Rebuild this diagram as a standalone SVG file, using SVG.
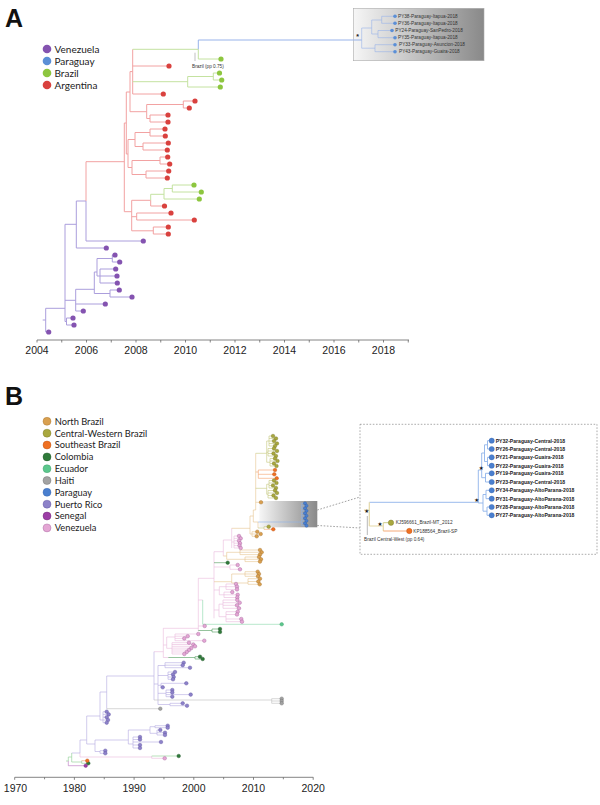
<svg xmlns="http://www.w3.org/2000/svg" width="600" height="805" viewBox="0 0 600 805">
<defs>
<linearGradient id="gbox" x1="0" y1="0" x2="1" y2="0"><stop offset="0" stop-color="#f6f6f6"/><stop offset="1" stop-color="#898989"/></linearGradient>
</defs>
<style>
.b{fill:none;stroke-width:1}
.s{fill:none;stroke-width:0.6}
.pa{stroke:#ab9edc}.ra{stroke:#f2a2a2}.ga{stroke:#c4e2a0}.ba{stroke:#98b3ea}
.pk{stroke:#eab8dc}.pu{stroke:#b3aae0}.gy{stroke:#bdbdbd}.gn{stroke:#8ccc8e}.dg{stroke:#4f9a5a}.mg{stroke:#b871c0}.or{stroke:#f4a06a}.mt{stroke:#86d6a8}.tn{stroke:#e5c48e}.ol{stroke:#c4c77c}.bu{stroke:#8fb3ea}
.tp{fill:#8453b0}.tr{fill:#d9413e}.tg{fill:#8dc63f}.tb{fill:#5b8fd6}
.cpk{fill:#e4a6d4;stroke:#a0609a;stroke-width:0.4}
.cpu{fill:#8d82c9;stroke:#5b4e9e;stroke-width:0.4}
.cgy{fill:#a3a3a3;stroke:#6a6a6a;stroke-width:0.4}
.cdg{fill:#2f7a3a;stroke:#1d5024;stroke-width:0.4}
.cmt{fill:#5cc78d;stroke:#3a9a66;stroke-width:0.4}
.cmg{fill:#9c3ea6;stroke:#6a2070;stroke-width:0.4}
.cor{fill:#ef7022;stroke:#b84e10;stroke-width:0.4}
.ctn{fill:#d9a050;stroke:#a47028;stroke-width:0.4}
.col{fill:#a9a83e;stroke:#757320;stroke-width:0.4}
.cbu{fill:#4a7fcf;stroke:#2f5fa8;stroke-width:0.4}
.lab{font-family:"Liberation Sans",Arial,sans-serif;font-weight:bold;font-size:25px;fill:#111}
.leg{font-family:Lato,"Open Sans",sans-serif;font-size:10px;fill:#222}
.legb{font-family:Lato,"Open Sans",sans-serif;font-size:9.3px;fill:#222}
.ax{font-family:"Liberation Sans",Arial,sans-serif;font-size:10.5px;fill:#222;text-anchor:middle}
.tiny{font-family:"Liberation Sans",Arial,sans-serif;font-size:4.7px;fill:#333}
.tinyb{font-family:"Liberation Sans",Arial,sans-serif;font-size:5.1px;font-weight:bold;fill:#222}
.st{font-family:"DejaVu Sans",sans-serif;font-size:5.5px;fill:#111;text-anchor:middle}
.axl{stroke:#666;stroke-width:0.8;fill:none}
</style>

<g id="panelA">
<text class="lab" x="5" y="27">A</text>
<g id="legendA">
<circle cx="47" cy="49" r="4.3" class="tp"/><text class="leg" x="54.5" y="52.5">Venezuela</text>
<circle cx="47" cy="61" r="4.3" class="tb"/><text class="leg" x="54.5" y="64.5">Paraguay</text>
<circle cx="47" cy="73" r="4.3" class="tg"/><text class="leg" x="54.5" y="76.5">Brazil</text>
<circle cx="47" cy="85" r="4.3" class="tr"/><text class="leg" x="54.5" y="88.5">Argentina</text>
</g>
<g id="insetA">
<rect x="353.3" y="8.3" width="130.7" height="52.4" fill="url(#gbox)" stroke="#aaaaaa" stroke-width="0.6"/>
</g>
<g id="branchesA">
<path class="b pa" d="M42.7 320H45.7 M45.7 308.3V332H48.7 M45.7 308.3H65 M65 224.3V321.5 M65 321.5H66.5 M66.5 318V325 M66.5 318H73 M66.5 325H74 M65 224.3H76.3 M76.3 201V248H106.3 M76.3 201H86 M86 201V241H143.3 M65 300.3H75.7 M75.7 289.3V311 M75.7 304H105.3 M75.7 311H83.3 M75.7 289.3H94.3 M94.3 272V293.5 M94.3 293.5H110 M110 290V297 M110 290H119.3 M110 297H132 M94.3 272H97 M97 258.5V276 M97 258.5H112.3 M112.3 255V262 M112.3 255H115 M112.3 262H119.7 M97 276H100 M100 269V283 M100 269H115.7 M100 276H117 M100 283H117.3"/>
<path class="b ra" d="M86 161.7V201 M86 161.7H124.3 M124.3 123V211.7 M124.3 123H126.3 M126.3 92V154 M126.3 92H130 M130 71.6V111.7 M130 71.6H132.7 M132.7 49.3V94 M132.7 66H169 M132.7 94H163.3 M130 111.7H146.7 M146.7 104.5V118.5 M146.7 104.5H183.3 M183.3 101V108 M183.3 101H195 M183.3 108H189.3 M146.7 118.5H150 M150 115V122 M150 115H168 M150 122H168 M126.3 154H128 M128 139.5V167.5 M128 139.5H135 M135 132.5V146.5 M135 132.5H150 M150 129V136 M150 129H165 M150 136H165.3 M135 146.5H143 M143 143V150 M143 143H168.3 M143 150H167.3 M128 167.5H132 M132 160.5V174.5 M132 160.5H160 M160 157V164 M160 157H167.7 M160 164H169.7 M132 174.5H146 M146 171V178 M146 171H168.7 M146 178H167.3 M124.3 211.7H131.7 M131.7 200.3V230.8 M131.7 200.3H150.7 M150.7 200.3V206H164.5 M131.7 216.7H136.7 M136.7 213V220 M136.7 213H171 M136.7 220H194.3 M131.7 230.8H153.3 M153.3 227V234 M153.3 227H168.3 M153.3 234H168.3"/>
<path class="b ga" d="M132.7 49.3H198.3 M198.3 49.3V59H221 M132.7 81.7H187.7 M187.7 76.5V87 M187.7 76.5H213.3 M213.3 73V80 M213.3 73H219.5 M213.3 80H221.7 M187.7 87H220.3 M150.7 194.3V200.3 M150.7 194.3H164 M164 188.5V199 M164 188.5H172.3 M172.3 185V192 M172.3 185H194 M172.3 192H201.3 M164 199H199.3"/>
<path class="b ba" d="M198.3 40V49.3 M198.3 40H361.7"/>
<path class="s ba" stroke-width="0.7" d="M361.7 28V48.2 M361.7 28H371.7 M371.7 20V34 M371.7 20H381.7 M381.7 16.3V23.3 M381.7 16.3H395 M381.7 23.3H395 M371.7 34H378 M378 30.5V37.7 M378 30.5H392 M378 37.7H395 M361.7 48.2H375 M375 44.7V51.7 M375 44.7H395 M375 51.7H395"/>
<path fill="none" stroke="#999" stroke-width="0.6" d="M195 52.7V61"/>
</g>
<g id="tipsA">
<g class="tg"><circle cx="221" cy="59" r="2.6"/><circle cx="219.5" cy="73" r="2.6"/><circle cx="221.7" cy="80" r="2.6"/><circle cx="220.3" cy="87" r="2.6"/><circle cx="194" cy="185" r="2.6"/><circle cx="201.3" cy="192" r="2.6"/><circle cx="199.3" cy="199" r="2.6"/></g>
<g class="tr"><circle cx="169" cy="66" r="2.6"/><circle cx="163.3" cy="94" r="2.6"/><circle cx="195" cy="101" r="2.6"/><circle cx="189.3" cy="108" r="2.6"/><circle cx="168" cy="115" r="2.6"/><circle cx="168" cy="122" r="2.6"/><circle cx="165" cy="129" r="2.6"/><circle cx="165.3" cy="136" r="2.6"/><circle cx="168.3" cy="143" r="2.6"/><circle cx="167.3" cy="150" r="2.6"/><circle cx="167.7" cy="157" r="2.6"/><circle cx="169.7" cy="164" r="2.6"/><circle cx="168.7" cy="171" r="2.6"/><circle cx="167.3" cy="178" r="2.6"/><circle cx="164.5" cy="206" r="2.6"/><circle cx="171" cy="213" r="2.6"/><circle cx="194.3" cy="220" r="2.6"/><circle cx="168.3" cy="227" r="2.6"/><circle cx="168.3" cy="234" r="2.6"/></g>
<g class="tp"><circle cx="143.3" cy="241" r="2.6"/><circle cx="106.3" cy="248" r="2.6"/><circle cx="115" cy="255" r="2.6"/><circle cx="119.7" cy="262" r="2.6"/><circle cx="115.7" cy="269" r="2.6"/><circle cx="117" cy="276" r="2.6"/><circle cx="117.3" cy="283" r="2.6"/><circle cx="119.3" cy="290" r="2.6"/><circle cx="132" cy="297" r="2.6"/><circle cx="105.3" cy="304" r="2.6"/><circle cx="83.3" cy="311" r="2.6"/><circle cx="73" cy="318" r="2.6"/><circle cx="74" cy="325" r="2.6"/><circle cx="48.7" cy="332" r="2.6"/></g>
<g class="tb"><circle cx="395" cy="16.3" r="1.8"/><circle cx="395" cy="23.3" r="1.8"/><circle cx="392" cy="30.5" r="1.8"/><circle cx="395" cy="37.7" r="1.8"/><circle cx="395" cy="44.7" r="1.8"/><circle cx="395" cy="51.7" r="1.8"/></g>
</g>
<g id="labelsA">
<text class="tiny" x="398" y="17.9">PY38-Paraguay-Itapua-2018</text>
<text class="tiny" x="398" y="24.9">PY36-Paraguay-Itapua-2018</text>
<text class="tiny" x="395.3" y="32.1">PY24-Paraguay-SanPedro-2018</text>
<text class="tiny" x="398" y="39.3">PY35-Paraguay-Itapua-2018</text>
<text class="tiny" x="399" y="46.3">PY33-Paraguay-Asuncion-2018</text>
<text class="tiny" x="399" y="53.3">PY43-Paraguay-Guaira-2018</text>
<text class="tiny" x="192" y="67.5">Brazil (pp 0.75)</text>
<text x="357.7" y="39" font-family="Liberation Sans, sans-serif" font-size="7" font-weight="bold" fill="#222" text-anchor="middle">*</text>
</g>
<g id="axisA">
<path class="axl" d="M37 340H409 M37 340v2.5 M61.75 340v2.5 M86.5 340v2.5 M111.25 340v2.5 M136 340v2.5 M160.75 340v2.5 M185.5 340v2.5 M210.25 340v2.5 M235 340v2.5 M259.75 340v2.5 M284.5 340v2.5 M309.25 340v2.5 M334 340v2.5 M358.75 340v2.5 M383.5 340v2.5 M408.25 340v2.5"/>
<text class="ax" x="37" y="354">2004</text><text class="ax" x="86.5" y="354">2006</text><text class="ax" x="136" y="354">2008</text><text class="ax" x="185.5" y="354">2010</text><text class="ax" x="235" y="354">2012</text><text class="ax" x="284.5" y="354">2014</text><text class="ax" x="334" y="354">2016</text><text class="ax" x="383.5" y="354">2018</text>
</g>
</g>

<g id="panelB">
<text class="lab" x="5" y="405">B</text>
<g id="legendB">
<circle cx="47" cy="421.3" r="4" class="ctn"/><text class="legb" x="54.7" y="424.6">North Brazil</text>
<circle cx="47" cy="433.2" r="4" class="col"/><text class="legb" x="54.7" y="436.5">Central-Western Brazil</text>
<circle cx="47" cy="445" r="4" class="cor"/><text class="legb" x="54.7" y="448.3">Southeast Brazil</text>
<circle cx="47" cy="456.9" r="4" class="cdg"/><text class="legb" x="54.7" y="460.2">Colombia</text>
<circle cx="47" cy="468.7" r="4" class="cmt"/><text class="legb" x="54.7" y="472">Ecuador</text>
<circle cx="47" cy="480.5" r="4" class="cgy"/><text class="legb" x="54.7" y="483.8">Haiti</text>
<circle cx="47" cy="492.3" r="4" class="cbu"/><text class="legb" x="54.7" y="495.6">Paraguay</text>
<circle cx="47" cy="504.2" r="4" class="cpu"/><text class="legb" x="54.7" y="507.5">Puerto Rico</text>
<circle cx="47" cy="516" r="4" class="cmg"/><text class="legb" x="54.7" y="519.3">Senegal</text>
<circle cx="47" cy="527.9" r="4" class="cpk"/><text class="legb" x="54.7" y="531.2">Venezuela</text>
</g>
<g id="highlightB">
<rect x="259.3" y="501" width="58" height="26.3" fill="url(#gbox)"/>
</g>
<g id="connectors">
<path fill="none" stroke="#777" stroke-width="0.7" stroke-dasharray="1.6 1.6" d="M317.3 510L360 497 M317.3 525.5L360 528"/>
</g>
<g id="branchesB">
<path class="s pk" d="M80 753V757H151.7 M151.7 756V758.3 M151.7 758.3H164.7 M163.3 628.3V657.5 M154 651.7H163.3 M163.3 657.5H168.3 M163.3 645H166.7 M166.7 637V648.3 M166.7 637H175 M175 634V640.7 M175 634H198.3 M175 636.2H187.7 M175 638.4H184.3 M175 640.7H204.3 M166.7 648.3H172 M172 642.7V654 M172 642.7H189 M172 644.5H193.3 M172 646.3H195 M172 648.1H191.3 M172 650H189 M172 652H186.7 M172 654H184.3 M163.3 628.3H198.3 M198.3 578.3V631 M198.3 626H204.7 M198.3 600H202.7 M198.3 578.3H214 M214 551.7V618.3 M214 590H219.3 M219.3 586.7V594.8 M219.3 586.7H226 M226 584V589.4 M226 584H236 M226 586.7H237 M226 589.4H237 M219.3 594.8H224 M224 592.1V597.5 M224 592.1H232.3 M224 594.8H237.7 M224 597.5H237.3 M214 610H219 M219 604.15V616.7 M219 604.15H223 M223 600V608.3 M223 600H237.3 M223 602.7H239.7 M223 605.3H237 M223 608.3H239 M219 616.7H226 M226 611.7V621.7 M226 611.7H237.7 M226 614.5H237 M226 619H241.3 M226 621.7H242 M214 567H230 M230 565V569.3 M230 565H237.7 M230 569.3H240 M214 551.7H223.3 M223.3 540V556 M223.3 540H231.7 M231.7 528.3V548 M231.7 542H234 M234 536V548 M234 536H239 M234 538.4H240.7 M234 540.8H239 M234 543.2H240 M234 545.6H239.5 M234 548H240.7"/>
<path class="s pu" d="M71.7 753H80 M80 740V753 M80 740H86.7 M86.7 716V744 M86.7 744H95 M95 740V751.5 M95 751.5H100 M100 750.7V753.3 M100 750.7H105.3 M100 753.3H105.3 M95 740H128.3 M128.3 730V744 M128.3 730H150 M150 726.7V733.3 M150 726.7H155 M155 725.7V727.7 M155 725.7H167.7 M155 727.7H167.7 M150 733.3H157 M157 730V735 M157 730H160.3 M157 732.7H165 M157 735H165 M128.3 744H133 M133 737V748 M133 737H140 M133 739.5H140 M133 742H161 M133 745H140 M133 748H140 M86.7 716H100 M100 692V720 M100 720H103 M103 711.7V722.7 M103 711.7H106.7 M103 714.4H108.7 M103 717.2H106.7 M103 720H108 M103 722.7H106.7 M100 692H106.7 M106.7 676V708.7 M106.7 676H154 M154 651.7V700 M154 684H158 M158 665.5V704.5 M158 665.5H165 M165 662.7V667.7 M165 662.7H183.7 M165 665.2H182.7 M165 667.7H190 M158 675.5H168 M168 672V679.3 M168 672H175 M168 674.5H173 M168 677H173.7 M168 679.3H173 M158 685.3H161 M161 683.3V687.3 M161 683.3H186.3 M161 687.3H162.7 M158 693.3H166 M166 690V696.7 M166 690H172.3 M166 692.5H172.3 M166 694.6H190.7 M166 696.7H172.3 M158 704.5H170 M170 703.3V705.7 M170 703.3H182.7 M170 705.7H187"/>
<path class="s gy" d="M106.7 708.7H160.3 M154 700H271.7 M271.7 698.7V703.3 M271.7 698.7H281.7 M271.7 701H281.7 M271.7 703.3H281.7"/>
<path class="s gn" d="M66 761H68.3 M68.3 757V761 M68.3 757H71.7 M71.7 753V762 M71.7 762H81.7 M81.7 760.7V763.3 M81.7 763.3H88.3 M151.7 756H178.7"/>
<path class="s dg" d="M168.3 657.5H195 M195 656.7V659 M195 656.7H200 M195 659H202.7 M198.3 630.5H212 M212 629V632 M212 629H220 M212 632H220 M214 562.7H227.7"/>
<path class="s mg" d="M68.3 761V765.7H85.7"/>
<path class="s or" d="M81.7 760.7H87.3 M255.7 472H258.3 M258.3 470V478.3 M258.3 470H275 M258.3 474.3H274.3 M258.3 478.3H276.7 M264 529.3H273.3"/>
<path class="s mt" d="M202.7 600V624.3H281.7"/>
<path class="s tn" d="M214 581.7H231.7 M231.7 574V583 M231.7 574H245 M245 571.7V576.3 M245 571.7H257.7 M245 574H259 M245 576.3H258 M231.7 583H248 M248 578.7V584.3 M248 578.7H260 M248 581.5H258.3 M248 584.3H259.7 M223.3 556H226.7 M226.7 552.3V559.3 M226.7 552.3H240 M240 550V554.6 M240 550H260 M240 552.3H261.7 M240 554.6H260 M226.7 559.3H245 M245 557V561.6 M245 557H259 M245 559.3H261 M245 561.6H260 M231.7 528.3H250 M250 516V534 M250 534H252 M252 531.7V536.3 M252 531.7H257.3 M252 534H260.7 M252 536.3H256.7 M250 516H253.3 M253.3 510V522 M253.3 522H258 M258 522V528 M253.3 510H255.7 M255.7 453.3V510 M255.7 502.3H261"/>
<path class="s ol" d="M258 528H264 M264 526.7V529.3 M264 526.7H268.7 M255.7 453.3H266.7 M266.7 441V462.25 M266.7 441H269 M269 436V446 M269 436H273 M269 438.5H276 M269 441H274 M269 443.5H277 M269 446H275 M266.7 452.25H268 M268 448.5V456 M268 448.5H274 M268 451H277 M268 453.5H273.5 M268 456H276 M266.7 462.25H270 M270 458.5V466 M270 458.5H275 M270 461H277.5 M270 463.5H274 M270 466H276.5 M255.7 488.3H266.7 M266.7 484.25V494.25 M266.7 484.25H269 M269 480.5V488 M269 480.5H274 M269 483H276.5 M269 485.5H273 M269 488H276 M266.7 494.25H268 M268 490.5V498 M268 490.5H275 M268 493H277 M268 495.5H273.5 M268 498H276"/>
<path class="s bu" d="M258 522H301.7 M301.7 503.3V525.7 M301.7 503.3H305 M301.7 505.8H306.5 M301.7 508.3H305 M301.7 510.8H306.5 M301.7 513.3H305 M301.7 515.8H306.5 M301.7 518.3H305 M301.7 520.8H306.5 M301.7 523.3H305 M301.7 525.7H306.5"/>
</g>
<g id="tipsB">
<g class="cpk"><circle cx="164.7" cy="758.3" r="1.8"/><circle cx="204.7" cy="626" r="1.8"/><circle cx="198.3" cy="634" r="1.8"/><circle cx="187.7" cy="636.2" r="1.8"/><circle cx="184.3" cy="638.4" r="1.8"/><circle cx="204.3" cy="640.7" r="1.8"/><circle cx="189" cy="642.7" r="1.8"/><circle cx="193.3" cy="644.5" r="1.8"/><circle cx="195" cy="646.3" r="1.8"/><circle cx="191.3" cy="648.1" r="1.8"/><circle cx="189" cy="650" r="1.8"/><circle cx="186.7" cy="652" r="1.8"/><circle cx="184.3" cy="654" r="1.8"/><circle cx="236" cy="584" r="1.8"/><circle cx="237" cy="586.7" r="1.8"/><circle cx="237" cy="589.4" r="1.8"/><circle cx="232.3" cy="592.1" r="1.8"/><circle cx="237.7" cy="594.8" r="1.8"/><circle cx="237.3" cy="597.5" r="1.8"/><circle cx="237.3" cy="600" r="1.8"/><circle cx="239.7" cy="602.7" r="1.8"/><circle cx="237" cy="605.3" r="1.8"/><circle cx="239" cy="608.3" r="1.8"/><circle cx="237.7" cy="611.7" r="1.8"/><circle cx="237" cy="614.5" r="1.8"/><circle cx="241.3" cy="619" r="1.8"/><circle cx="242" cy="621.7" r="1.8"/><circle cx="237.7" cy="565" r="1.8"/><circle cx="240" cy="569.3" r="1.8"/><circle cx="239" cy="536" r="1.8"/><circle cx="240.7" cy="538.4" r="1.8"/><circle cx="239" cy="540.8" r="1.8"/><circle cx="240" cy="543.2" r="1.8"/><circle cx="239.5" cy="545.6" r="1.8"/><circle cx="240.7" cy="548" r="1.8"/></g>
<g class="cpu"><circle cx="183.7" cy="662.7" r="1.8"/><circle cx="182.7" cy="665.2" r="1.8"/><circle cx="190" cy="667.7" r="1.8"/><circle cx="175" cy="672" r="1.8"/><circle cx="173" cy="674.5" r="1.8"/><circle cx="173.7" cy="677" r="1.8"/><circle cx="173" cy="679.3" r="1.8"/><circle cx="186.3" cy="683.3" r="1.8"/><circle cx="162.7" cy="687.3" r="1.8"/><circle cx="172.3" cy="690" r="1.8"/><circle cx="172.3" cy="692.5" r="1.8"/><circle cx="190.7" cy="694.6" r="1.8"/><circle cx="172.3" cy="696.7" r="1.8"/><circle cx="182.7" cy="703.3" r="1.8"/><circle cx="187" cy="705.7" r="1.8"/><circle cx="106.7" cy="711.7" r="1.8"/><circle cx="108.7" cy="714.4" r="1.8"/><circle cx="106.7" cy="717.2" r="1.8"/><circle cx="108" cy="720" r="1.8"/><circle cx="106.7" cy="722.7" r="1.8"/><circle cx="105.3" cy="750.7" r="1.8"/><circle cx="105.3" cy="753.3" r="1.8"/><circle cx="167.7" cy="725.7" r="1.8"/><circle cx="167.7" cy="727.7" r="1.8"/><circle cx="160.3" cy="730" r="1.8"/><circle cx="165" cy="732.7" r="1.8"/><circle cx="165" cy="735" r="1.8"/><circle cx="140" cy="737" r="1.8"/><circle cx="140" cy="739.5" r="1.8"/><circle cx="161" cy="742" r="1.8"/><circle cx="140" cy="745" r="1.8"/><circle cx="140" cy="748" r="1.8"/></g>
<g class="cgy"><circle cx="160.3" cy="708.7" r="1.8"/><circle cx="281.7" cy="698.7" r="1.8"/><circle cx="281.7" cy="701" r="1.8"/><circle cx="281.7" cy="703.3" r="1.8"/></g>
<g class="cdg"><circle cx="178.7" cy="756" r="1.8"/><circle cx="88.3" cy="763.3" r="1.8"/><circle cx="200" cy="656.7" r="1.8"/><circle cx="202.7" cy="659" r="1.8"/><circle cx="220" cy="629" r="1.8"/><circle cx="220" cy="632" r="1.8"/><circle cx="227.7" cy="562.7" r="1.8"/></g>
<g class="cmt"><circle cx="281.7" cy="624.3" r="1.8"/></g>
<g class="cmg"><circle cx="85.7" cy="765.7" r="1.8"/></g>
<g class="cor"><circle cx="87.3" cy="760.7" r="1.8"/><circle cx="275" cy="470" r="1.8"/><circle cx="274.3" cy="474.3" r="1.8"/><circle cx="276.7" cy="478.3" r="1.8"/><circle cx="273.3" cy="529.3" r="1.8"/></g>
<g class="ctn"><circle cx="257.7" cy="571.7" r="1.8"/><circle cx="259" cy="574" r="1.8"/><circle cx="258" cy="576.3" r="1.8"/><circle cx="260" cy="578.7" r="1.8"/><circle cx="258.3" cy="581.5" r="1.8"/><circle cx="259.7" cy="584.3" r="1.8"/><circle cx="260" cy="550" r="1.8"/><circle cx="261.7" cy="552.3" r="1.8"/><circle cx="260" cy="554.6" r="1.8"/><circle cx="259" cy="557" r="1.8"/><circle cx="261" cy="559.3" r="1.8"/><circle cx="260" cy="561.6" r="1.8"/><circle cx="257.3" cy="531.7" r="1.8"/><circle cx="260.7" cy="534" r="1.8"/><circle cx="256.7" cy="536.3" r="1.8"/><circle cx="261" cy="502.3" r="1.8"/></g>
<g class="col"><circle cx="268.7" cy="526.7" r="1.8"/><circle cx="273" cy="436" r="1.8"/><circle cx="276" cy="438.5" r="1.8"/><circle cx="274" cy="441" r="1.8"/><circle cx="277" cy="443.5" r="1.8"/><circle cx="275" cy="446" r="1.8"/><circle cx="274" cy="448.5" r="1.8"/><circle cx="277" cy="451" r="1.8"/><circle cx="273.5" cy="453.5" r="1.8"/><circle cx="276" cy="456" r="1.8"/><circle cx="275" cy="458.5" r="1.8"/><circle cx="277.5" cy="461" r="1.8"/><circle cx="274" cy="463.5" r="1.8"/><circle cx="276.5" cy="466" r="1.8"/><circle cx="274" cy="480.5" r="1.8"/><circle cx="276.5" cy="483" r="1.8"/><circle cx="273" cy="485.5" r="1.8"/><circle cx="276" cy="488" r="1.8"/><circle cx="275" cy="490.5" r="1.8"/><circle cx="277" cy="493" r="1.8"/><circle cx="273.5" cy="495.5" r="1.8"/><circle cx="276" cy="498" r="1.8"/></g>
<g class="cbu"><circle cx="305" cy="503.3" r="1.6"/><circle cx="306.5" cy="505.8" r="1.6"/><circle cx="305" cy="508.3" r="1.6"/><circle cx="306.5" cy="510.8" r="1.6"/><circle cx="305" cy="513.3" r="1.6"/><circle cx="306.5" cy="515.8" r="1.6"/><circle cx="305" cy="518.3" r="1.6"/><circle cx="306.5" cy="520.8" r="1.6"/><circle cx="305" cy="523.3" r="1.6"/><circle cx="306.5" cy="525.7" r="1.6"/></g>
</g>
<g id="insetB">
<rect x="360" y="424.3" width="237" height="130" fill="none" stroke="#888" stroke-width="0.7" stroke-dasharray="1.6 1.6"/>
<path fill="none" stroke="#8fb3ea" stroke-width="0.9" d="M369.3 502.3H478.3 M478.3 470V503 M478.3 470H481.7 M481.7 453V477.7 M481.7 453H484.5 M484.5 444.8V461.5 M484.5 444.8H487.5 M487.5 440.7V449 M487.5 440.7H491.7 M487.5 449H491.7 M484.5 461.5H487.5 M487.5 457.3V465.7 M487.5 457.3H491.7 M487.5 465.7H491.7 M481.7 477.7H485.5 M485.5 473.3V482 M485.5 473.3H491.7 M485.5 482H491.7 M478.3 503H483 M483 494.5V511.2 M483 494.5H486 M486 490.3V498.7 M486 490.3H491.7 M486 498.7H491.7 M483 511.2H487 M487 507V515.3 M487 507H491.7 M487 515.3H491.7"/>
<path fill="none" stroke="#e5d9a8" stroke-width="1.2" d="M364 510H369.3 M369.3 502.3V526 M369.3 526H383.3 M383.3 522.7V531"/>
<path fill="none" stroke="#c4c77c" stroke-width="0.9" d="M383.3 522.7H391"/>
<path fill="none" stroke="#f4a06a" stroke-width="0.9" d="M383.3 531H409.3"/>
<path fill="none" stroke="#888" stroke-width="0.6" d="M367.3 516V535"/>
<g class="cbu" stroke-width="0.5"><circle cx="491.7" cy="440.7" r="2.6"/><circle cx="491.7" cy="449" r="2.6"/><circle cx="491.7" cy="457.3" r="2.6"/><circle cx="491.7" cy="465.7" r="2.6"/><circle cx="491.7" cy="473.3" r="2.6"/><circle cx="491.7" cy="482" r="2.6"/><circle cx="491.7" cy="490.3" r="2.6"/><circle cx="491.7" cy="498.7" r="2.6"/><circle cx="491.7" cy="507" r="2.6"/><circle cx="491.7" cy="515.3" r="2.6"/></g>
<circle cx="391" cy="522.7" r="2.7" class="col"/>
<circle cx="409.3" cy="531" r="2.7" class="cor"/>
<text class="tinyb" x="495.7" y="442.5">PY32-Paraguay-Central-2018</text>
<text class="tinyb" x="495.7" y="450.8">PY26-Paraguay-Central-2018</text>
<text class="tinyb" x="495.7" y="459.1">PY21-Paraguay-Guaira-2018</text>
<text class="tinyb" x="495.7" y="467.5">PY22-Paraguay-Guaira-2018</text>
<text class="tinyb" x="495.7" y="475.1">PY19-Paraguay-Guaira-2018</text>
<text class="tinyb" x="495.7" y="483.8">PY23-Paraguay-Central-2018</text>
<text class="tinyb" x="495.7" y="492.1">PY34-Paraguay-AltoParana-2018</text>
<text class="tinyb" x="495.7" y="500.5">PY31-Paraguay-AltoParana-2018</text>
<text class="tinyb" x="495.7" y="508.8">PY28-Paraguay-AltoParana-2018</text>
<text class="tinyb" x="495.7" y="517.1">PY27-Paraguay-AltoParana-2018</text>
<text class="tiny" x="395.7" y="524.4" font-size="5">KJ596661_Brazil-MT_2012</text>
<text class="tiny" x="413.3" y="532.7" font-size="5">KP188564_Brazil-SP</text>
<text class="tiny" x="364" y="540.5" font-size="4.5">Brazil Central-West (pp 0.64)</text>
<text class="st" x="366.7" y="512.8">★</text>
<text class="st" x="380" y="525.8">★</text>
<text class="st" x="476.7" y="502">★</text>
<text class="st" x="481.2" y="470.3">★</text>
</g>
<g id="axisB">
<path class="axl" d="M14.7 777.3H313.3 M14.7 777.3v2.5 M44.55 777.3v2 M74.4 777.3v2.5 M104.25 777.3v2 M134.1 777.3v2.5 M163.95 777.3v2 M193.8 777.3v2.5 M223.65 777.3v2 M253.5 777.3v2.5 M283.35 777.3v2 M313.2 777.3v2.5"/>
<text class="ax" x="15.5" y="792">1970</text><text class="ax" x="74.4" y="792">1980</text><text class="ax" x="134.1" y="792">1990</text><text class="ax" x="193.8" y="792">2000</text><text class="ax" x="253.5" y="792">2010</text><text class="ax" x="313.2" y="792">2020</text>
</g>
</g>
</svg>
